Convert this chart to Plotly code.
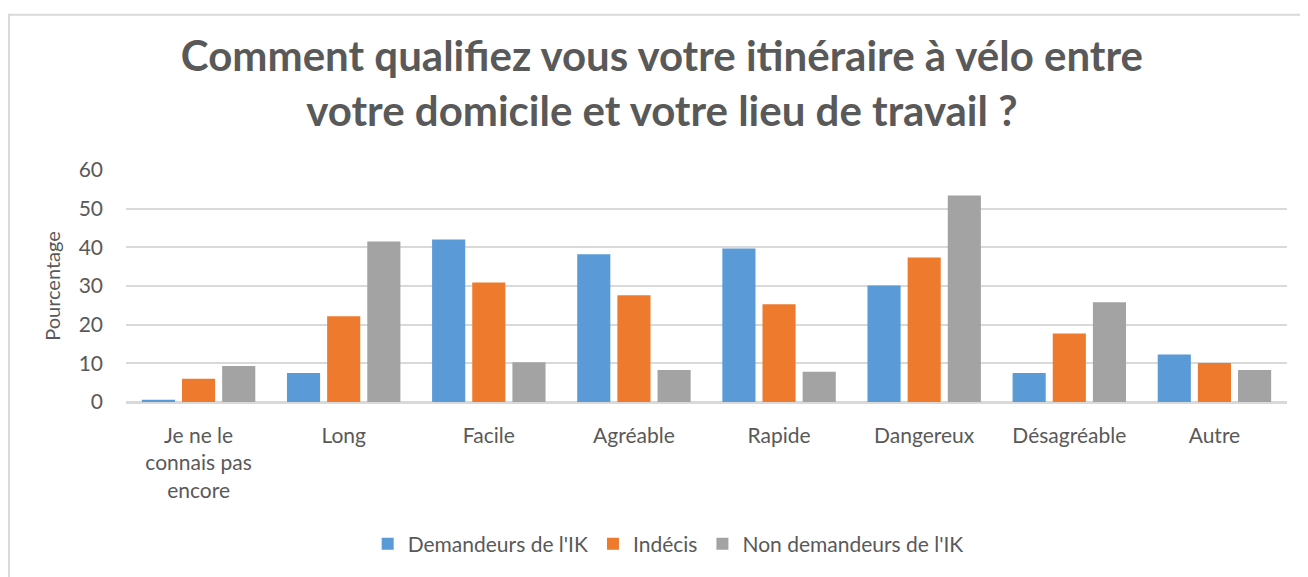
import plotly.graph_objects as go

# categories (x axis) and survey percentages per group
categories = ["Je ne le<br>connais pas<br>encore", "Long", "Facile", "Agréable",
              "Rapide", "Dangereux", "Désagréable", "Autre"]
demandeurs = [0.6, 7.5, 42.0, 38.2, 39.7, 30.1, 7.5, 12.3]
indecis = [6.0, 22.2, 30.9, 27.6, 25.3, 37.4, 17.7, 10.1]
non_demandeurs = [9.3, 41.5, 10.3, 8.3, 7.8, 53.4, 25.8, 8.3]

series_names = ["Demandeurs de l'IK", "Indécis", "Non demandeurs de l'IK"]
series_colors = ["#5A9AD6", "#EE7A2E", "#A3A3A3"]

TEXT = "#595959"
GRID = "#D9D9D9"
FONT = "Lato"

fig = go.Figure()
for name, vals, color in zip(series_names, [demandeurs, indecis, non_demandeurs], series_colors):
    fig.add_trace(go.Bar(
        x=categories, y=vals, name=name,
        marker=dict(color=color, line=dict(width=0)),
        hovertemplate=f"<b>{name}</b><br>%{{x}}: %{{y:.1f}} %<extra></extra>",
    ))

# page body adds an 8px offset, so the figure is 8px smaller than the window
fig.update_layout(
    width=1300, height=569,
    margin=dict(l=118, r=21, t=162, b=171),
    paper_bgcolor="white", plot_bgcolor="white",
    font=dict(family=FONT, color=TEXT, size=21),
    barmode="group", bargap=0.17, bargroupgap=0.175,
    title=dict(
        text="<b>Comment qualifiez vous votre itinéraire à vélo entre<br>votre domicile et votre lieu de travail ?</b>",
        x=0.503, xanchor="center", y=0.889, yanchor="middle",
        font=dict(family=FONT, size=42, color=TEXT),
    ),
    legend=dict(
        orientation="h", x=0.467, xanchor="center", y=-0.613, yanchor="middle",
        font=dict(size=21, color=TEXT), itemwidth=30,
    ),
    showlegend=True,
)

fig.update_xaxes(
    showgrid=False, showline=False, ticks="",
    tickfont=dict(size=21, color=TEXT), ticklabelstandoff=19,
)
fig.update_yaxes(
    range=[0, 60], dtick=10,
    showgrid=True, gridcolor=GRID, gridwidth=1.5,
    zeroline=True, zerolinecolor=GRID, zerolinewidth=2.5,
    showline=False, ticks="",
    tickfont=dict(size=21, color=TEXT), ticklabelstandoff=22,
    title=dict(text="Pourcentage", font=dict(size=20, color=TEXT), standoff=12),
)

# chart-area frame (only left and top edges are visible in the page)
fig.add_shape(type="rect", xref="paper", yref="paper",
              x0=-0.1008, x1=1.2, y0=-1.5, y1=1.669,
              line=dict(color=GRID, width=2), layer="below")

fig.write_html("out.html")
